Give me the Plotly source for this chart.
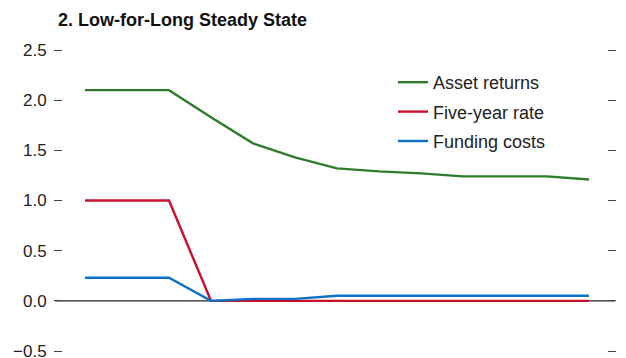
import plotly.graph_objects as go

periods = list(range(13))
asset_returns = [2.10, 2.10, 2.10, 1.83, 1.57, 1.43, 1.32, 1.29, 1.27, 1.24, 1.24, 1.24, 1.21]
five_year_rate = [1.00, 1.00, 1.00, 0.0, 0.0, 0.0, 0.0, 0.0, 0.0, 0.0, 0.0, 0.0, 0.0]
funding_costs = [0.23, 0.23, 0.23, 0.0, 0.02, 0.02, 0.05, 0.05, 0.05, 0.05, 0.05, 0.05, 0.05]
y_ticks = [-0.5, 0.0, 0.5, 1.0, 1.5, 2.0, 2.5]
y_ticktext = ["\u22120.5", "0.0", "0.5", "1.0", "1.5", "2.0", "2.5"]

FONT = "Liberation Sans Narrow, Arial Narrow, Liberation Sans, Arial, sans-serif"

fig = go.Figure()
fig.add_trace(go.Scatter(x=periods, y=asset_returns, mode="lines", name="Asset returns",
                         legendgroup="a", line=dict(color="#2f7d2a", width=2.4)))
fig.add_trace(go.Scatter(x=periods, y=five_year_rate, mode="lines", name="Five-year rate",
                         legendgroup="b", line=dict(color="#c8102e", width=2.4)))
fig.add_trace(go.Scatter(x=periods, y=funding_costs, mode="lines", name="Funding costs",
                         legendgroup="c", line=dict(color="#0a72c9", width=2.4)))
# invisible trace for right axis ticks
fig.add_trace(go.Scatter(x=[periods[0]], y=[y_ticks[0]], yaxis="y2", mode="lines",
                         showlegend=False, hoverinfo="skip", line=dict(width=0)))

fig.add_shape(type="line", xref="paper", yref="y", x0=-8/544, x1=1+8/544, y0=0, y1=0,
              line=dict(color="#222222", width=1.2), layer="below")

fig.update_layout(
    width=626, height=358,
    margin=dict(l=63, r=19, t=50, b=7, autoexpand=False),
    paper_bgcolor="white", plot_bgcolor="white",
    font=dict(family=FONT, size=18, color="#222222"),
    title=dict(text="<b>2. Low-for-Long Steady State</b>", x=58/626, xanchor="left",
               y=1 - 20/358, yanchor="middle", font=dict(family=FONT, size=18, color="#111111")),
    xaxis=dict(range=[-0.524, 12.43], showgrid=False, zeroline=False, showticklabels=False,
               ticks="", showline=False, automargin=False),
    yaxis=dict(range=[-0.5, 2.5], tickvals=y_ticks, ticktext=y_ticktext, showgrid=False,
               zeroline=False, ticks="outside", ticklen=8, tickcolor="#444444", tickwidth=1.2,
               showline=False, ticklabelstandoff=4, automargin=False,
               ticklabeloverflow="allow", tickfont=dict(size=17)),
    yaxis2=dict(range=[-0.5, 2.5], tickvals=y_ticks, overlaying="y", side="right",
                showticklabels=False, showgrid=False, zeroline=False, ticks="outside",
                ticklen=8, tickcolor="#444444", tickwidth=1.2, showline=False, automargin=False),
    legend=dict(x=(393 - 63) / 544, y=1 - (64 - 50) / 301, xanchor="left", yanchor="top",
                bgcolor="rgba(0,0,0,0)", font=dict(size=18), itemwidth=30,
                traceorder="grouped", tracegroupgap=3),
    showlegend=True,
)

fig.write_html("out.html", config={"displayModeBar": False},
               post_script="document.body.style.margin='0';document.body.style.overflow='hidden';")
